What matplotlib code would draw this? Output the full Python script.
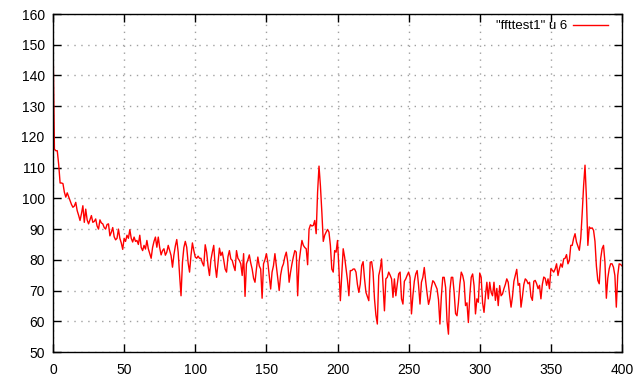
import matplotlib
matplotlib.use("Agg")
import matplotlib.pyplot as plt

x_start = 0
values = [
    152, 116, 115.5, 115.5, 111, 105, 105, 104.8, 102, 100.4,
    101.8, 100.5, 99.2, 98, 97.1, 97.5, 98.7, 96, 94.5, 92.8,
    95, 97.6, 92.2, 96.5, 93, 91.7, 93, 94.4, 92.2, 92.5,
    93.3, 91, 90, 93, 92, 91.7, 90.5, 90, 91.5, 91.7,
    87.8, 89, 90.5, 87.5, 86.5, 87, 90, 87, 85.5, 83.4,
    87, 86, 88, 87, 89.8, 87, 85.8, 87.4, 86, 86.3,
    85, 88, 84, 83, 84.7, 83.5, 86.3, 83.6, 82, 80.5,
    84, 86, 87.4, 84.1, 87.4, 84, 81.6, 83, 83.6, 81.5,
    82.5, 84.7, 83, 81.4, 77.6, 81.6, 84.5, 86.6, 82.5, 75,
    68.3, 79.2, 84, 86, 84.1, 79, 76, 81.4, 85.5, 83,
    80.9, 80.5, 81.2, 80.5, 80.5, 79, 78, 84.9, 82.5, 78,
    74.9, 80, 82.5, 84.7, 78.1, 74.3, 79, 83.8, 81.4, 82.5,
    80, 77, 76, 81, 83, 80.3, 79.8, 78, 76.5, 83,
    80.5, 79.8, 78.7, 74.9, 82, 68.1, 78.7, 80, 81.6, 79,
    77, 74, 72.7, 77, 80.9, 78, 77, 67.5, 78.7, 80,
    82, 79.3, 75, 70.5, 76, 78.1, 82, 78, 73.8, 70,
    75, 77.5, 78.7, 81, 82.5, 79.3, 72.7, 76, 78.7, 81,
    83, 82.5, 68.3, 79.3, 83, 86.3, 84.7, 84, 83.6, 78.4,
    90, 91.4, 91, 91.2, 92.8, 88.5, 102, 110.5, 104, 95.5,
    86, 88, 89, 89.9, 89, 84.7, 77, 76, 83, 82.5,
    86.3, 77, 66.7, 75, 83.6, 80.9, 77, 73.4, 68.3, 76.5,
    76.5, 77, 77, 76, 72, 69.4, 72.1, 78.1, 79.4, 73.8,
    69.4, 68, 66.7, 79.2, 79.4, 76, 67.3, 62, 59.1, 74.9,
    77, 80.3, 72.1, 63.4, 73.8, 74.3, 76, 75, 73.8, 67.8,
    73.8, 68.3, 72, 75.4, 76, 67.3, 65.6, 73, 73.8, 75,
    76, 74.3, 62.4, 68.3, 73, 75.4, 76.5, 71.6, 65.6, 72.7,
    74.3, 77.5, 73, 69, 65.5, 67.4, 71, 73.2, 72.7, 71.6,
    70.5, 67, 59.1, 68, 74.3, 74.3, 71, 60, 55.8, 70,
    74.3, 74.3, 69.4, 62.5, 61.8, 66, 72, 76, 74.9, 72.7,
    65.1, 66, 59.6, 68.3, 74.3, 75.4, 71.6, 62.4, 67.3, 66.2,
    75.7, 74.3, 66, 62.9, 68.3, 72.7, 67.3, 72.7, 69.4, 68.3,
    72.7, 66.8, 70.7, 65.1, 71.6, 68.3, 68.9, 70.6, 72, 73.8,
    72.7, 68.4, 64.6, 68, 73, 75, 76.9, 71.7, 72.3, 64.6,
    68, 72, 73.8, 73.3, 72.2, 72.7, 68, 66.8, 73, 73.3,
    72.2, 70.6, 71.7, 67.3, 72, 74.4, 74, 71.7, 73.8, 70.6,
    77.1, 76.6, 76, 77, 78.7, 74.9, 77.1, 78.7, 77.6, 80.3,
    80.5, 81.7, 78.7, 79.8, 84.7, 84.7, 87, 88.5, 85.8, 84.5,
    83.1, 87, 95, 104, 110.8, 100, 84.7, 90.7, 90.2, 90.4,
    89.6, 86, 78, 73.3, 72.2, 80.4, 83.6, 84.7, 79.3, 67.5,
    74, 77.1, 78.7, 78.7, 77.6, 74.9, 64.6, 74.9, 78.7, 78.5,
    78,
]
xs = list(range(x_start, x_start + len(values)))
legend_label = '"ffttest1" u 6'
x_ticks = [0, 50, 100, 150, 200, 250, 300, 350, 400]
y_ticks = [50, 60, 70, 80, 90, 100, 110, 120, 130, 140, 150, 160]

plt.rcParams['font.family'] = ['Liberation Sans', 'DejaVu Sans']
fig = plt.figure(figsize=(6.4, 3.84), dpi=100)
ax = fig.add_axes([53/640, 1-352/384, (622-53)/640, (352-14)/384])
ax.plot(xs, values, color='#ff0000', lw=1.0, label=legend_label)
ax.set_xlim(0, 400)
ax.set_ylim(50, 160)
ax.set_xticks(x_ticks)
ax.set_yticks(y_ticks)
ax.grid(True, color='#a0a0a0', linestyle=(0, (1, 4)), lw=1.0)
ax.tick_params(direction='in', length=6, width=1, top=True, right=True,
               labelsize=10, colors='black')
ax.tick_params(axis='x', pad=8)
ax.tick_params(axis='y', pad=6)
for s in ax.spines.values():
    s.set_linewidth(1.0)
leg = ax.legend(loc='upper right', bbox_to_anchor=(1 - 5/569, 1 + 3/338),
                frameon=False, fontsize=9.5, handlelength=2.6,
                markerfirst=False, borderaxespad=0.3, handletextpad=0.5)
fig.savefig('out.png', dpi=100)
